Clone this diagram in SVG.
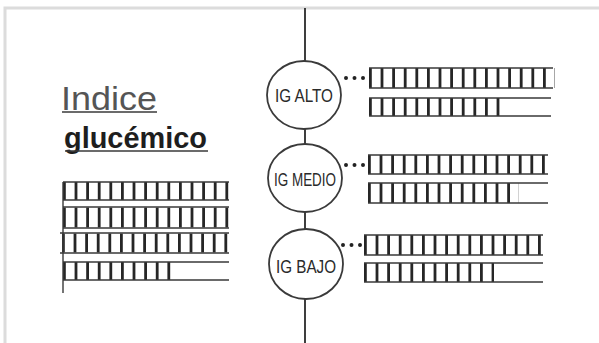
<svg xmlns="http://www.w3.org/2000/svg" width="599" height="343" viewBox="0 0 599 343">
<style>
.frame{stroke:#dcdcdc;stroke-width:3;fill:none}
.axis{stroke:#2a2a2a;stroke-width:1.8;fill:none}
.node{fill:#fff;stroke:#3a3a3a;stroke-width:1.8}
.lbl{font-family:"Liberation Sans",Arial,sans-serif;font-size:19px;fill:#2a2a2a;text-anchor:middle}
.edge{stroke:#3a3a3a;stroke-width:1.4;fill:none}
.hatch{stroke:#262626;stroke-dasharray:2.8 8.8;fill:none}
.dots{stroke:#222;stroke-width:4;stroke-dasharray:0 8.5;stroke-linecap:round;fill:none}
.t1{font-family:"Liberation Sans",Arial,sans-serif;font-size:34px;fill:#555}
.t2{font-family:"Liberation Sans",Arial,sans-serif;font-size:30px;font-weight:bold;fill:#1e1e1e}
</style>
<rect width="599" height="343" fill="#fff"/>
<path class="frame" d="M5,343 V8 H599"/>
<g id="title">
<text class="t1" x="61" y="110" textLength="96" lengthAdjust="spacingAndGlyphs">Indice</text>
<line class="edge" x1="62" y1="112" x2="157" y2="112"/>
<text class="t2" x="64" y="148" textLength="143" lengthAdjust="spacingAndGlyphs">glucémico</text>
<line class="edge" x1="65" y1="151" x2="208" y2="151"/>
</g>
<g id="connectors">
<line class="axis" x1="305" y1="8" x2="305" y2="62"/>
<line class="axis" x1="305" y1="128" x2="305" y2="145"/>
<line class="axis" x1="305" y1="212" x2="305" y2="229"/>
<line class="axis" x1="305" y1="299" x2="305" y2="343"/>
<line class="dots" x1="346" y1="78" x2="364" y2="78"/>
<line class="dots" x1="346" y1="165" x2="364" y2="165"/>
<line class="dots" x1="343" y1="245" x2="361" y2="245"/>
</g>
<g id="node-alto">
<ellipse class="node" cx="304" cy="95" rx="37" ry="34"/>
<text class="lbl" x="304" y="102" textLength="58" lengthAdjust="spacingAndGlyphs">IG ALTO</text>
</g>
<g id="node-medio">
<ellipse class="node" cx="305" cy="178" rx="37" ry="34"/>
<text class="lbl" x="305" y="186" textLength="62" lengthAdjust="spacingAndGlyphs">IG MEDIO</text>
</g>
<g id="node-bajo">
<ellipse class="node" cx="306" cy="264" rx="37" ry="35"/>
<text class="lbl" x="306" y="273" textLength="60" lengthAdjust="spacingAndGlyphs">IG BAJO</text>
</g>
<g id="bars-left">
<line class="hatch" x1="63" y1="191" x2="231" y2="191" stroke-width="18"/>
<path class="edge" d="M63,182 H229 M63,200 H229"/>
<line class="hatch" x1="63" y1="217.5" x2="231" y2="217.5" stroke-width="20"/>
<path class="edge" d="M63,207 H229 M63,228 H229"/>
<line class="hatch" x1="62" y1="243" x2="230" y2="243" stroke-width="19"/>
<path class="edge" d="M60,233 H229 M60,253 H229"/>
<line class="hatch" x1="63" y1="271" x2="174" y2="271" stroke-width="18"/>
<path class="edge" d="M63,262 H229 M63,280 H229 M63,182 V293"/>
</g>
<g id="bars-alto">
<line class="hatch" x1="369" y1="78" x2="555" y2="78" stroke-width="20"/>
<path class="edge" d="M369,68 H553 M369,88 H553"/>
<line class="hatch" x1="369" y1="107" x2="505" y2="107" stroke-width="18"/>
<path class="edge" d="M369,98 H551 M369,116 H551"/>
</g>
<g id="bars-medio">
<line class="hatch" x1="368" y1="164.5" x2="550" y2="164.5" stroke-width="19"/>
<path class="edge" d="M368,155 H548 M368,174 H548"/>
<line class="hatch" x1="368" y1="193" x2="519" y2="193" stroke-width="20"/>
<path class="edge" d="M368,183 H548 M368,203 H548"/>
</g>
<g id="bars-bajo">
<line class="hatch" x1="364" y1="245" x2="545" y2="245" stroke-width="20"/>
<path class="edge" d="M364,235 H543 M364,255 H543"/>
<line class="hatch" x1="364" y1="272.5" x2="494" y2="272.5" stroke-width="19"/>
<path class="edge" d="M364,263 H543 M364,282 H543"/>
</g>
</svg>
